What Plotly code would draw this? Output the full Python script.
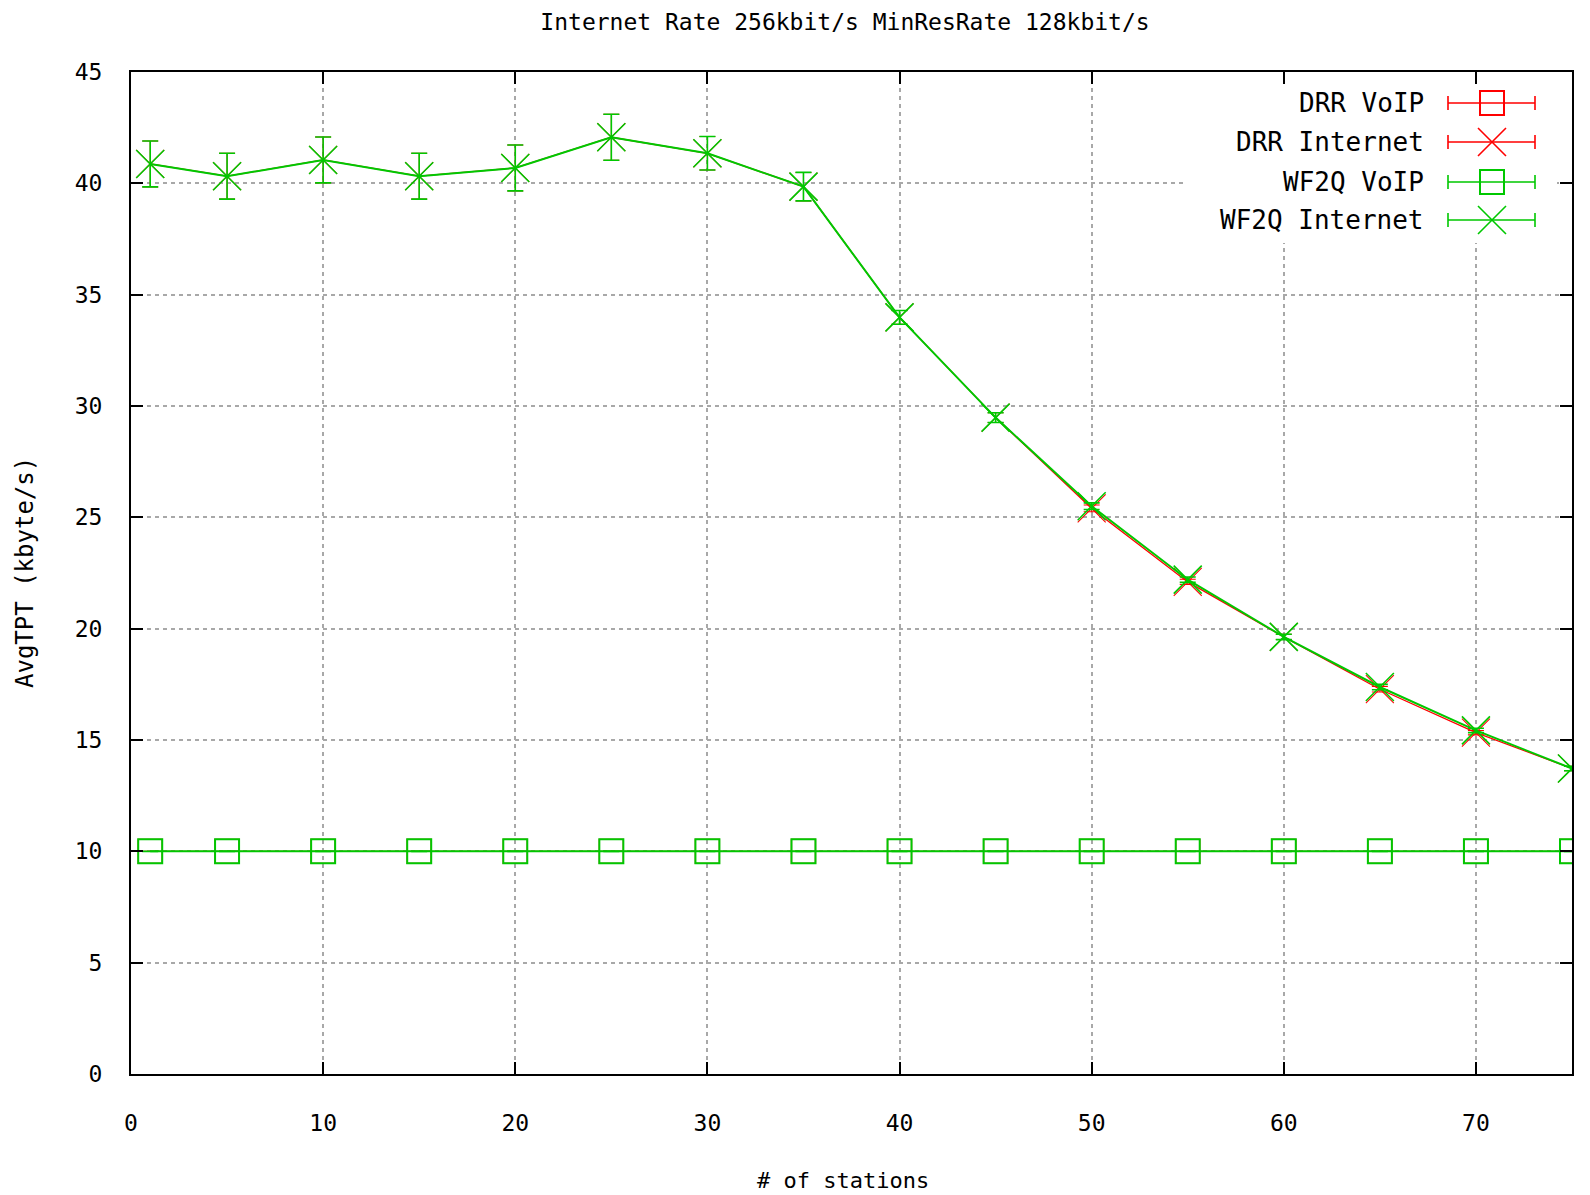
import plotly.graph_objects as go

# ---- data -------------------------------------------------------------
stations = [1, 5, 10, 15, 20, 25, 30, 35, 40, 45, 50, 55, 60, 65, 70, 75]

drr_voip = [10.0, 10.0, 10.0, 10.0, 10.0, 10.0, 10.0, 10.0,
            10.0, 10.0, 10.0, 10.0, 10.0, 10.0, 10.0, 10.0]
drr_voip_err = [0.0, 0.0, 0.0, 0.0, 0.0, 0.0, 0.0, 0.0,
                0.0, 0.0, 0.0, 0.0, 0.0, 0.0, 0.0, 0.0]

drr_internet = [40.87, 40.32, 41.05, 40.32, 40.69, 42.07, 41.35, 39.85,
                33.98, 29.48, 25.40, 22.10, 19.63, 17.28, 15.33, 13.72]
drr_internet_err = [1.03, 1.03, 1.03, 1.03, 1.03, 1.03, 0.75, 0.64,
                    0.31, 0.22, 0.15, 0.12, 0.12, 0.12, 0.10, 0.10]

wf2q_voip = [10.0, 10.0, 10.0, 10.0, 10.0, 10.0, 10.0, 10.0,
             10.0, 10.0, 10.0, 10.0, 10.0, 10.0, 10.0, 10.0]
wf2q_voip_err = [0.0, 0.0, 0.0, 0.0, 0.0, 0.0, 0.0, 0.0,
                 0.0, 0.0, 0.0, 0.0, 0.0, 0.0, 0.0, 0.0]

wf2q_internet = [40.87, 40.32, 41.05, 40.32, 40.69, 42.07, 41.35, 39.85,
                 33.98, 29.48, 25.50, 22.20, 19.63, 17.38, 15.43, 13.72]
wf2q_internet_err = [1.03, 1.03, 1.03, 1.03, 1.03, 1.03, 0.75, 0.64,
                     0.31, 0.22, 0.15, 0.12, 0.12, 0.12, 0.10, 0.10]

series_names = ["DRR VoIP", "DRR Internet", "WF2Q VoIP", "WF2Q Internet"]
series_values = [drr_voip, drr_internet, wf2q_voip, wf2q_internet]
series_errors = [drr_voip_err, drr_internet_err, wf2q_voip_err, wf2q_internet_err]
series_colors = ["#ff0000", "#ff0000", "#00c800", "#00c800"]
series_symbols = ["square-open", "x-thin-open", "square-open", "x-thin-open"]
# DRR is drawn first and slightly thinner, so WF2Q covers it where they coincide
series_widths = [1.3, 1.3, 2.0, 2.0]

x_ticks = [0, 10, 20, 30, 40, 50, 60, 70]
y_ticks = [0, 5, 10, 15, 20, 25, 30, 35, 40, 45]

title_text = "Internet Rate 256kbit/s MinResRate 128kbit/s"
x_title = "# of stations"
y_title = "AvgTPT (kbyte/s)"

# ---- page geometry (pixels) -------------------------------------------
W, H = 1590, 1195
LEFT, RIGHT, TOP, BOTTOM = 131, 1572, 72, 1074
FONT = "DejaVu Sans Mono"


def fx(px):
    return (px - LEFT) / (RIGHT - LEFT)


def fy(py):
    return (BOTTOM - py) / (BOTTOM - TOP)


def marker_style(symbol, color, width):
    if symbol.startswith("square"):
        return dict(symbol=symbol, size=24, color=color,
                    line=dict(color=color, width=width))
    return dict(symbol=symbol, size=28, color=color,
                line=dict(color=color, width=width * 0.8))


fig = go.Figure()

for name, vals, errs, col, sym, lw in zip(series_names, series_values,
                                          series_errors, series_colors,
                                          series_symbols, series_widths):
    fig.add_trace(go.Scatter(
        x=stations, y=vals, name=name, mode="lines+markers",
        line=dict(color=col, width=lw),
        marker=marker_style(sym, col, lw),
        error_y=dict(type="data", array=errs, symmetric=True,
                     color=col, thickness=lw * 0.8, width=8),
        showlegend=False,
    ))

# ---- key in the upper right corner (pixel axes overlaying the plot) ----
key_box_x = [1186, 1557, 1557, 1186, 1186]
key_box_y = [85, 85, 243, 243, 85]
fig.add_trace(go.Scatter(
    x=key_box_x, y=key_box_y, mode="lines", fill="toself",
    fillcolor="white", line=dict(width=0, color="white"),
    xaxis="x2", yaxis="y2", showlegend=False, hoverinfo="skip",
))

key_rows_y = [103, 142, 182, 220]
key_text_right = 1426
key_sample_x = 1492
key_half_left, key_half_right = 44, 43

for name, col, sym, ry in zip(series_names, series_colors, series_symbols,
                              key_rows_y):
    fig.add_trace(go.Scatter(
        x=[key_sample_x], y=[ry], mode="markers",
        marker=marker_style(sym, col, 2.0),
        error_x=dict(type="data", array=[key_half_right],
                     arrayminus=[key_half_left], symmetric=False,
                     color=col, thickness=1.6, width=7),
        xaxis="x2", yaxis="y2", showlegend=False, hoverinfo="skip",
    ))
    fig.add_annotation(
        x=key_text_right, y=ry, xref="x2", yref="y2", text=name,
        showarrow=False, xanchor="right", yanchor="middle",
        font=dict(family=FONT, size=26, color="black"),
    )

axis_common = dict(
    showgrid=True, gridcolor="#a8a8a8", gridwidth=1.5, griddash="4px,4px",
    showline=True, linecolor="black", linewidth=2, mirror="ticks",
    ticks="inside", ticklen=12, tickwidth=2, tickcolor="black",
    zeroline=False,
    tickfont=dict(family=FONT, size=23, color="black"),
)

fig.update_layout(
    width=W, height=H,
    margin=dict(l=LEFT, r=W - RIGHT, t=TOP, b=H - BOTTOM, autoexpand=False),
    paper_bgcolor="white", plot_bgcolor="white",
    title=dict(text=title_text, x=fx(845), xref="paper", xanchor="center",
               y=1 - 22 / H, yref="container", yanchor="middle",
               font=dict(family=FONT, size=23, color="black")),
    xaxis=dict(range=[0, 75], tickvals=x_ticks, ticklabelstandoff=27,
               **axis_common),
    yaxis=dict(range=[0, 45], tickvals=y_ticks, ticklabelstandoff=22,
               **axis_common),
    xaxis2=dict(range=[LEFT, RIGHT], overlaying="x", visible=False,
                fixedrange=True),
    yaxis2=dict(range=[BOTTOM, TOP], overlaying="y", visible=False,
                fixedrange=True),
    showlegend=False,
)

fig.add_annotation(x=fx(843), y=fy(1180), xref="paper", yref="paper",
                   text=x_title, showarrow=False, xanchor="center",
                   yanchor="middle",
                   font=dict(family=FONT, size=22, color="black"))
fig.add_annotation(x=fx(25), y=fy(573), xref="paper", yref="paper",
                   text=y_title, showarrow=False, textangle=-90,
                   xanchor="center", yanchor="middle",
                   font=dict(family=FONT, size=24, color="black"))

fig.write_html("out.html")
